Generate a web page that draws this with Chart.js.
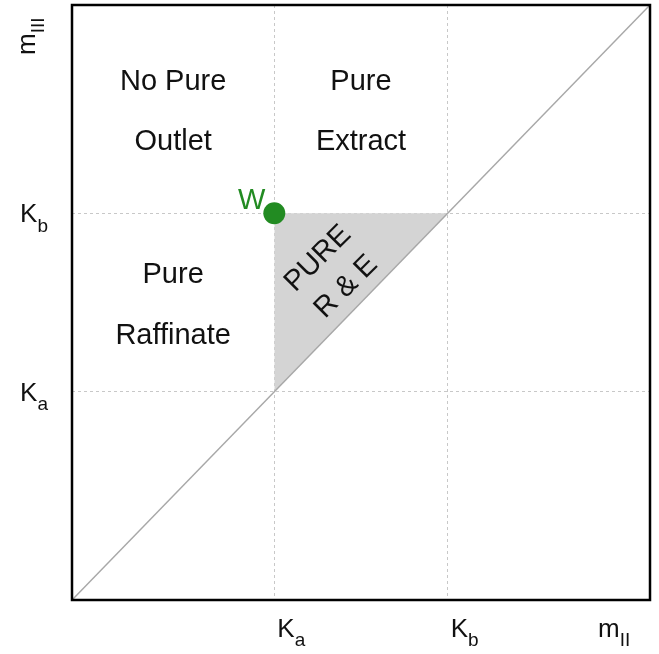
<!DOCTYPE html>
<html>
<head>
<meta charset="utf-8">
<script src="https://cdn.jsdelivr.net/npm/chart.js@4/dist/chart.umd.min.js"></script>
<style>
  html, body { margin: 0; padding: 0; background: #fff; }
  #wrap { width: 659px; height: 654px; }
</style>
</head>
<body>
<div id="wrap"><canvas id="chart" width="659" height="654"></canvas></div>
<script>
// critical values on both axes
const Ka = 0.35;
const Kb = 0.65;
const tickValues = [Ka, Kb];
const tickMain = ['K', 'K'];
const tickSub = ['a', 'b'];

// diagonal m_III = m_II
const diagX = [0, 1];
const diagY = [0, 1];

// lower edge of the pure R & E triangle (filled up to Kb)
const pureEdgeX = [Ka, Kb];
const pureEdgeY = [Ka, Kb];

// operating point W
const pointX = [Ka];
const pointY = [Kb];
const pointLabel = 'W';

// region labels (data coordinates: centre x, baseline y of each line)
const regionLines = [['No Pure', 'Outlet'], ['Pure', 'Extract'], ['Pure', 'Raffinate']];
const regionX = [0.175, 0.5, 0.175];
const regionY = [[0.857, 0.756], [0.857, 0.756], [0.533, 0.431]];
const triangleLines = ['PURE', 'R & E'];
const triangleX = 0.45;
const triangleY = 0.55;

const FONT = '"Liberation Sans", Arial, Helvetica, sans-serif';
const GREEN = '#228B22';

const toPoints = (xs, ys) => xs.map((x, i) => ({ x: x, y: ys[i] }));

// draw "main" + subscript starting at x, baseline y
function subText(ctx, x, y, main, sub, size) {
  ctx.font = size + 'px ' + FONT;
  ctx.textAlign = 'left';
  ctx.textBaseline = 'alphabetic';
  ctx.fillText(main, x, y);
  const w = ctx.measureText(main).width;
  ctx.font = Math.round(size * 0.72) + 'px ' + FONT;
  ctx.fillText(sub, x + w, y + size * 0.36);
  return w + ctx.measureText(sub).width;
}

function subWidth(ctx, main, sub, size) {
  ctx.font = size + 'px ' + FONT;
  const w = ctx.measureText(main).width;
  ctx.font = Math.round(size * 0.72) + 'px ' + FONT;
  return w + ctx.measureText(sub).width;
}

const decor = {
  id: 'decor',
  afterDraw(chart) {
    const { ctx, chartArea: a } = chart;
    const xs = chart.scales.x, ys = chart.scales.y;
    ctx.save();

    // frame
    ctx.strokeStyle = '#000';
    ctx.lineWidth = 2.5;
    ctx.strokeRect(a.left, a.top, a.right - a.left, a.bottom - a.top);

    // region labels
    ctx.fillStyle = '#111';
    ctx.font = '29px ' + FONT;
    ctx.textAlign = 'center';
    ctx.textBaseline = 'alphabetic';
    regionLines.forEach((lines, i) => {
      lines.forEach((t, j) => {
        ctx.fillText(t, xs.getPixelForValue(regionX[i]), ys.getPixelForValue(regionY[i][j]));
      });
    });

    // rotated label in the triangle
    ctx.save();
    ctx.translate(xs.getPixelForValue(triangleX), ys.getPixelForValue(triangleY));
    ctx.rotate(-Math.PI / 4);
    ctx.textBaseline = 'middle';
    ctx.fillText(triangleLines[0], 0, -20);
    ctx.fillText(triangleLines[1], 0, 20);
    ctx.restore();

    // W label
    ctx.fillStyle = GREEN;
    ctx.textAlign = 'right';
    ctx.textBaseline = 'alphabetic';
    ctx.fillText(pointLabel, xs.getPixelForValue(pointX[0]) - 9, ys.getPixelForValue(pointY[0]) - 4);

    // tick labels
    ctx.fillStyle = '#111';
    tickValues.forEach((v, i) => {
      subText(ctx, xs.getPixelForValue(v) + 3, a.bottom + 37, tickMain[i], tickSub[i], 26);
      const w = subWidth(ctx, tickMain[i], tickSub[i], 26);
      subText(ctx, a.left - 24 - w, ys.getPixelForValue(v) + 9, tickMain[i], tickSub[i], 26);
    });

    // axis titles
    subText(ctx, a.right - 52, a.bottom + 37, 'm', 'II', 26);
    ctx.save();
    ctx.translate(a.left - 37, a.top + 50);
    ctx.rotate(-Math.PI / 2);
    subText(ctx, 0, 0, 'm', 'III', 26);
    ctx.restore();

    ctx.restore();
  }
};

const gridOpts = { color: '#c8c8c8', lineWidth: 1, drawTicks: false };

new Chart(document.getElementById('chart'), {
  type: 'scatter',
  data: {
    datasets: [
      {
        label: 'Pure R & E',
        type: 'line',
        showLine: true,
        data: toPoints(pureEdgeX, pureEdgeY),
        fill: { value: Kb },
        backgroundColor: '#d4d4d4',
        borderWidth: 0,
        pointRadius: 0,
        order: 3
      },
      {
        label: 'diagonal',
        type: 'line',
        showLine: true,
        data: toPoints(diagX, diagY),
        fill: false,
        borderColor: '#a8a8a8',
        borderWidth: 1.5,
        pointRadius: 0,
        order: 2
      },
      {
        label: 'W',
        data: toPoints(pointX, pointY),
        backgroundColor: GREEN,
        borderWidth: 0,
        pointRadius: 11,
        pointHoverRadius: 11,
        order: 1
      }
    ]
  },
  options: {
    responsive: false,
    animation: false,
    events: [],
    layout: { autoPadding: false, padding: { top: 5, right: 9, bottom: 0, left: 0 } },
    plugins: { legend: { display: false }, tooltip: { enabled: false } },
    scales: {
      x: {
        type: 'linear',
        min: 0,
        max: 1,
        afterBuildTicks: s => { s.ticks = tickValues.map(v => ({ value: v })); },
        afterFit: s => { s.height = 54; },
        ticks: { display: false },
        grid: gridOpts,
        border: { display: false, dash: [3, 3] }
      },
      y: {
        type: 'linear',
        min: 0,
        max: 1,
        afterBuildTicks: s => { s.ticks = tickValues.map(v => ({ value: v })); },
        afterFit: s => { s.width = 72; },
        ticks: { display: false },
        grid: gridOpts,
        border: { display: false, dash: [3, 3] }
      }
    }
  },
  plugins: [decor]
});
</script>
</body>
</html>
